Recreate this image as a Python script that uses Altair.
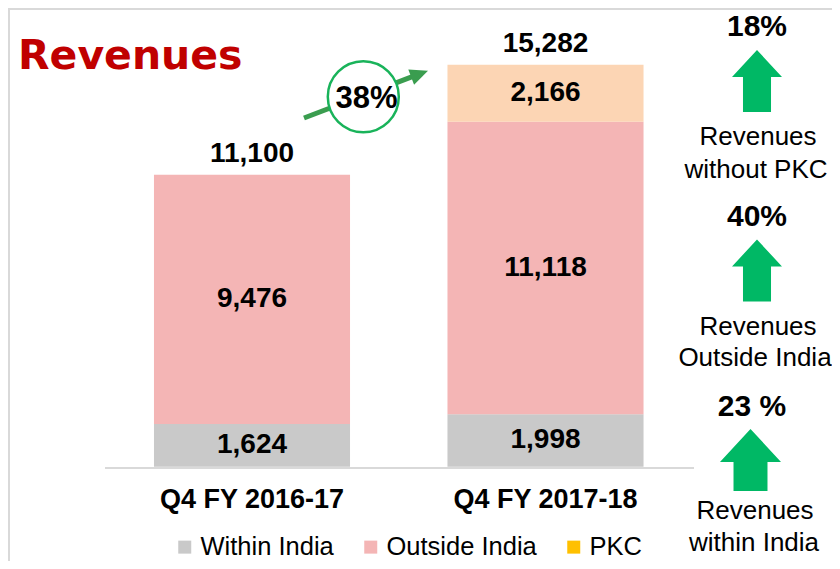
import altair as alt
import pandas as pd

# ---------------- data ----------------
periods = ["Q4 FY 2016-17", "Q4 FY 2017-18"]
segments = ["Within India", "Outside India", "PKC"]
within_india = [1624, 1998]
outside_india = [9476, 11118]
pkc = [0, 2166]
totals = [11100, 15282]
total_growth = "38%"
growth_pcts = ["18%", "40%", "23 %"]
growth_labels = [["Revenues", "without PKC"],
                 ["Revenues", "Outside India"],
                 ["Revenues", "within India"]]
title_text = "Revenues"

# ---------------- styles ----------------
W, H = 824, 553
FONT = "Liberation Sans"
bar_fill = {"Within India": "#C9C9C9", "Outside India": "#F4B5B5", "PKC": "#FCD5B4"}
legend_colors = ["#C9C9C9", "#F4B5B5", "#FFC000"]
GREEN = "#00B865"
GRID = "#D9D9D9"

# build stacked table
rows = []
for i, p in enumerate(periods):
    start = 0
    for seg, vals in zip(segments, [within_india, outside_india, pkc]):
        v = vals[i]
        if v <= 0:
            continue
        rows.append({"period": p, "segment": seg, "value": v, "start": start,
                     "end": start + v, "mid": start + v / 2, "fill": bar_fill[seg]})
        start += v
df_bars = pd.DataFrame(rows)
df_tot = pd.DataFrame({"period": periods, "total": totals})
df_leg = pd.DataFrame({"segment": segments})
one = pd.DataFrame({"k": [0]})

base_px = 458.7
ppu = 0.0263
yscale = alt.Scale(domain=[-(H - base_px) / ppu, base_px / ppu], nice=False, zero=False)
xscale = alt.Scale(domain=periods, range=[97.25, 684.25], paddingInner=0.332, paddingOuter=0.166)

X = alt.X("period:N", scale=xscale, axis=None, sort=periods)

bars = alt.Chart(df_bars).mark_bar().encode(
    x=X,
    y=alt.Y("start:Q", scale=yscale, axis=None),
    y2="end:Q",
    fill=alt.Fill("fill:N", scale=None),
)

seg_labels = alt.Chart(df_bars).mark_text(
    font=FONT, fontSize=28, fontWeight="bold", color="black", baseline="middle"
).encode(
    x=X, y=alt.Y("mid:Q", scale=yscale, axis=None),
    text=alt.Text("value:Q", format=","),
)

tot_labels = alt.Chart(df_tot).mark_text(
    font=FONT, fontSize=28, fontWeight="bold", color="black", baseline="alphabetic", dy=-13
).encode(
    x=X, y=alt.Y("total:Q", scale=yscale, axis=None),
    text=alt.Text("total:Q", format=","),
)

cat_labels = alt.Chart(df_tot).mark_text(
    font=FONT, fontSize=27, fontWeight="bold", color="black", baseline="middle"
).encode(x=X, y=alt.value(492), text="period:N")

legend_layer = alt.Chart(df_leg).mark_square(opacity=0).encode(
    x=alt.value(0), y=alt.value(0),
    color=alt.Color("segment:N",
                    scale=alt.Scale(domain=segments, range=legend_colors),
                    legend=alt.Legend(orient="none", legendX=164, legendY=526,
                                      direction="horizontal", title=None,
                                      symbolType="square", symbolSize=169,
                                      symbolOpacity=1, symbolStrokeWidth=0,
                                      labelFont=FONT, labelFontSize=25.5,
                                      labelColor="black", labelOffset=3,
                                      columnPadding=24, padding=0)),
)

layers = []
# frame lines
layers.append(alt.Chart(one).mark_rule(color=GRID, strokeWidth=2).encode(
    x=alt.value(0), x2=alt.value(W), y=alt.value(1)))
layers.append(alt.Chart(one).mark_rule(color=GRID, strokeWidth=2).encode(
    x=alt.value(1), y=alt.value(0), y2=alt.value(H)))
layers += [bars, seg_labels, tot_labels]
# baseline
layers.append(alt.Chart(one).mark_rule(color=GRID, strokeWidth=2).encode(
    x=alt.value(97), x2=alt.value(686), y=alt.value(460)))
layers.append(cat_labels)

# title
layers.append(alt.Chart(one).mark_text(
    text=title_text, font="DejaVu Sans", fontWeight="bold", fontSize=41,
    color="#C00000", align="left", baseline="alphabetic"
).encode(x=alt.value(10), y=alt.value(61)))

# growth arrow with circle
layers.append(alt.Chart(one).mark_rule(color="#3A9D4F", strokeWidth=5).encode(
    x=alt.value(296), y=alt.value(110), x2=alt.value(405), y2=alt.value(68.4)))
layers.append(alt.Chart(one).mark_point(
    shape="M1,0 L-1,-0.9 L-1,0.9 Z", filled=True, color="#3A9D4F", opacity=1,
    size=324, angle=339.1
).encode(x=alt.value(411.6), y=alt.value(65.9)))
layers.append(alt.Chart(one).mark_point(
    shape="circle", filled=True, fill="white", stroke="#19B35A", strokeWidth=2.5,
    opacity=1, size=5041
).encode(x=alt.value(355.3), y=alt.value(88.7)))
layers.append(alt.Chart(one).mark_text(
    text=total_growth, font=FONT, fontWeight="bold", fontSize=31, color="black",
    baseline="middle"
).encode(x=alt.value(358.5), y=alt.value(91)))

# right-side growth indicators
arrow_small = "M0,-1 L0.806,-0.129 L0.452,-0.129 L0.452,1 L-0.452,1 L-0.452,-0.129 L-0.806,-0.129 Z"
arrow_big = "M0,-1 L0.984,0.065 L0.548,0.065 L0.548,1 L-0.548,1 L-0.548,0.065 L-0.984,0.065 Z"
arrow_pos = [(749, 73, arrow_small), (749, 262.5, arrow_small), (742.5, 452, arrow_big)]
pct_pos = [(749, 19), (749, 209), (744, 399)]
lab_pos = [[(750, 129), (748, 162)], [(750, 319), (747, 350)], [(747, 503), (746, 535)]]

for (ax, ay, shp), (px, py), pct, labs, lpos in zip(arrow_pos, pct_pos, growth_pcts, growth_labels, lab_pos):
    layers.append(alt.Chart(one).mark_point(
        shape=shp, filled=True, color=GREEN, opacity=1, size=3844
    ).encode(x=alt.value(ax), y=alt.value(ay)))
    layers.append(alt.Chart(one).mark_text(
        text=pct, font=FONT, fontWeight="bold", fontSize=30, color="black", baseline="middle"
    ).encode(x=alt.value(px), y=alt.value(py)))
    for t, (lx, ly) in zip(labs, lpos):
        layers.append(alt.Chart(one).mark_text(
            text=t, font=FONT, fontSize=26, color="black", baseline="middle"
        ).encode(x=alt.value(lx), y=alt.value(ly)))

layers.append(legend_layer)

chart = alt.layer(*layers).properties(
    width=W, height=H, padding=0,
    autosize=alt.AutoSizeParams(type="none"),
).configure_view(stroke=None)

chart.save("out.html", embed_options={"renderer": "svg", "actions": False})
